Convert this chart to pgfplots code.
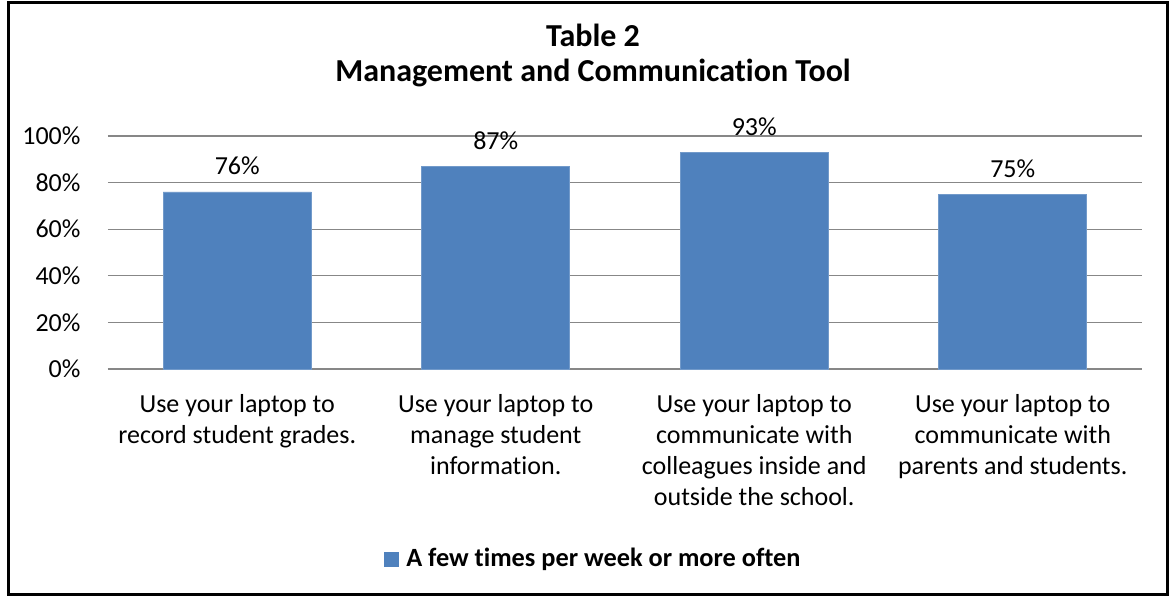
\documentclass[border=0pt]{standalone}
\usepackage{fontspec}
\setmainfont{Carlito}[Ligatures=NoCommon]
\usepackage{pgfplots}
\pgfplotsset{compat=1.18}
\definecolor{barblue}{HTML}{4F81BD}
\definecolor{gridgray}{HTML}{878787}
\begin{document}
\begin{tikzpicture}
\useasboundingbox (0,0) rectangle (702.6pt,358.8pt);
\draw[line width=1.8pt] (4.8pt,1.8pt) rectangle (700.2pt,357pt);
\node[font=\bfseries\fontsize{19.2}{22}\selectfont] at (355.8pt,337.8pt) {Table 2};
\node[font=\bfseries\fontsize{19.2}{22}\selectfont] at (355.8pt,315pt) {Management and Communication Tool};
\begin{axis}[
  at={(64.8pt,137.4pt)}, anchor=south west,
  scale only axis, width=620.4pt, height=139.8pt,
  xmin=-0.5, xmax=3.5, ymin=0, ymax=100,
  ybar, bar width=88.8pt,
  axis lines*=left,
  y axis line style={draw=none},
  x axis line style={gridgray, line width=0.8pt, -},
  ymajorgrids, grid style={gridgray, line width=0.8pt},
  major tick length=0pt,
  ytick={0,20,40,60,80,100},
  yticklabels={0\%,20\%,40\%,60\%,80\%,100\%},
  yticklabel style={font=\fontsize{15.6}{17}\selectfont, anchor=east, xshift=-13pt},
  xtick={0,1,2,3},
  xticklabels={{Use your laptop to\\record student grades.},{Use your laptop to\\manage student\\information.},{Use your laptop to\\communicate with\\colleagues inside and\\outside the school.},{Use your laptop to\\communicate with\\parents and students.}},
  xticklabel style={font=\fontsize{15.6}{18.6}\selectfont, align=center, anchor=north, yshift=-12pt},
  /pgf/number format/assume math mode=true,
  nodes near coords={\pgfmathprintnumber{\pgfplotspointmeta}\%},
  nodes near coords style={font=\fontsize{15.6}{17}\selectfont, anchor=south, yshift=6.5pt, black},
  legend style={at={(0.47,-0.815)}, anchor=center, draw=none, font=\bfseries\fontsize{15.8}{17}\selectfont},
  legend image code/.code={\fill[barblue] (0pt,-4.2pt) rectangle (8.4pt,4.2pt); \path (0pt,0pt) (11pt,0pt);},
  clip=false,
]
\addplot[fill=barblue, draw=barblue!80!white] coordinates {(0,76) (1,87) (2,93) (3,75)};
\addlegendentry{A few times per week or more often}
\end{axis}
\end{tikzpicture}
\end{document}
